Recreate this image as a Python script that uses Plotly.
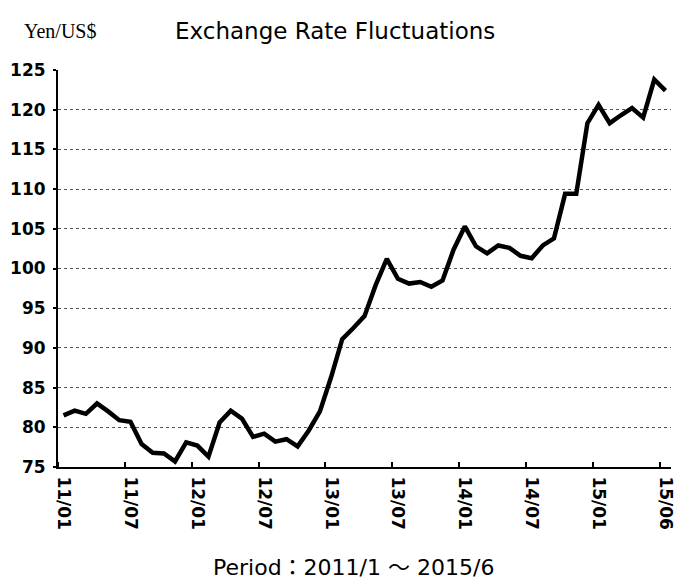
import plotly.graph_objects as go

# Monthly USD/JPY rate, Jan 2011 - Jun 2015 (yen per dollar)
rates = [
    81.5, 82.1, 81.7, 83.0, 82.0, 80.9, 80.7, 77.9, 76.8, 76.7,
    75.7, 78.1, 77.7, 76.3, 80.6, 82.1, 81.1, 78.8, 79.2, 78.2,
    78.5, 77.6, 79.6, 82.0, 86.3, 91.1, 92.5, 94.0, 97.9, 101.2,
    98.7, 98.1, 98.3, 97.7, 98.5, 102.4, 105.3, 102.8, 101.9, 102.9,
    102.6, 101.6, 101.3, 102.9, 103.8, 109.4, 109.4, 118.3, 120.6, 118.3,
    119.3, 120.2, 119.0, 123.8, 122.4,
]
period_index = list(range(len(rates)))

# Period labels shown under the axis, every sixth observation
label_index = [0, 6, 12, 18, 24, 30, 36, 42, 48, 54]
label_text = ["11/01", "11/07", "12/01", "12/07", "13/01",
              "13/07", "14/01", "14/07", "15/01", "15/06"]

y_ticks = [75, 80, 85, 90, 95, 100, 105, 110, 115, 120, 125]

fig = go.Figure()
fig.add_trace(go.Scatter(
    x=period_index, y=rates, mode="lines",
    line=dict(color="black", width=4.5),
    hoverinfo="y", showlegend=False,
))

fig.update_layout(
    width=680, height=582,
    margin=dict(l=58, r=4, t=70, b=115),
    paper_bgcolor="white", plot_bgcolor="white",
    xaxis=dict(
        range=[-0.5, len(rates) - 0.5],
        tickmode="array", tickvals=label_index, ticktext=label_text,
        tickangle=90, ticks="",
        tickfont=dict(family="DejaVu Sans", size=17, color="black", weight="bold"),
        ticklabelstandoff=4, ticklabeloverflow="allow",
        showline=True, linecolor="black", linewidth=2,
        showgrid=False, zeroline=False,
        minor=dict(tick0=5.5, dtick=6, ticks="inside", ticklen=5,
                   tickwidth=2, tickcolor="black", showgrid=False),
    ),
    yaxis=dict(
        range=[75, 125],
        tickmode="array", tickvals=y_ticks,
        ticks="outside", ticklen=3, tickwidth=2, tickcolor="black",
        tickfont=dict(family="DejaVu Sans", size=17, color="black", weight="bold"),
        ticklabelstandoff=4,
        showline=True, linecolor="black", linewidth=2,
        showgrid=True, gridcolor="#555555", gridwidth=1, griddash="dot",
        zeroline=False,
    ),
    annotations=[
        dict(text="Exchange Rate Fluctuations", xref="paper", yref="paper",
             x=0.4517, y=1.098, xanchor="center", yanchor="middle",
             showarrow=False,
             font=dict(family="DejaVu Sans", size=23, color="black")),
        dict(text="Yen/US$", xref="paper", yref="paper",
             x=-0.0583, y=1.098, xanchor="left", yanchor="middle",
             showarrow=False,
             font=dict(family="Liberation Serif", size=20, color="black")),
        dict(text="Period：2011/1 ～ 2015/6", xref="paper", yref="paper",
             x=0.4824, y=-0.2544, xanchor="center", yanchor="middle",
             showarrow=False,
             font=dict(family="DejaVu Sans, Noto Sans CJK JP", size=22, color="black")),
    ],
)

fig.write_html("out.html")
